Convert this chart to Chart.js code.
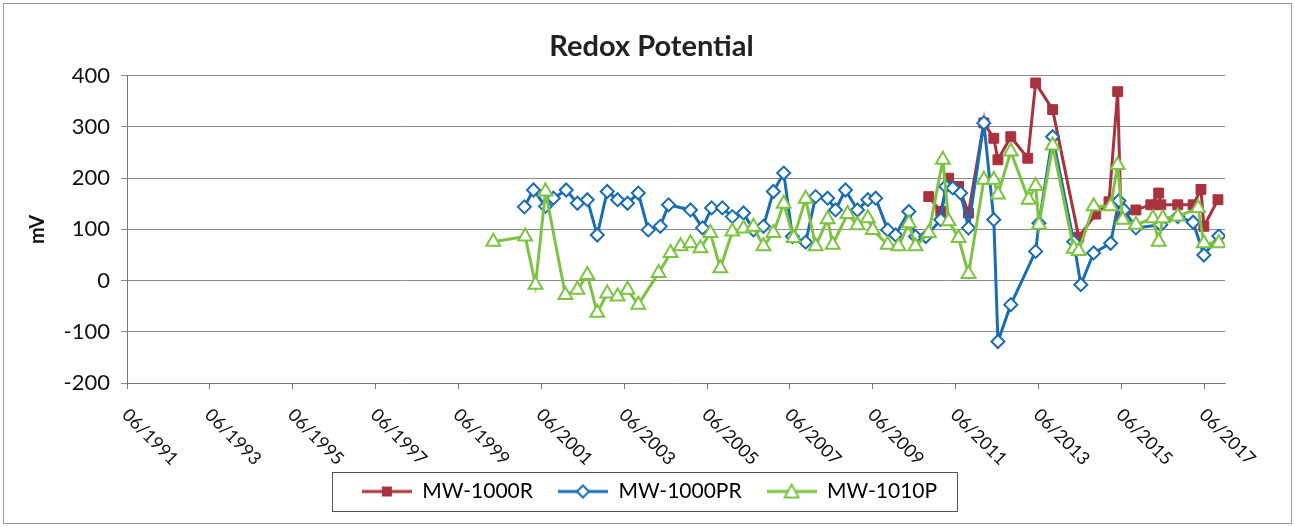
<!DOCTYPE html>
<html>
<head>
<meta charset="utf-8">
<script src="https://cdn.jsdelivr.net/npm/chart.js@4.4.0/dist/chart.umd.min.js"></script>
<style>
  html, body { margin: 0; padding: 0; background: #fff; }
</style>
</head>
<body>
<canvas id="myChart" width="1295" height="527"></canvas>
<script>
// tick labels
const xTickLabels = ['06/1991', '06/1993', '06/1995', '06/1997', '06/1999', '06/2001', '06/2003',
  '06/2005', '06/2007', '06/2009', '06/2011', '06/2013', '06/2015', '06/2017'];
const yTicks = [-200, -100, 0, 100, 200, 300, 400];

// sample dates as decimal years, values in mV
const mw1000rDates = [2010.85, 2011.14, 2011.33, 2011.57, 2011.81, 2012.18, 2012.42, 2012.52, 2012.83,
  2013.24, 2013.43, 2013.84, 2014.47, 2014.88, 2015.20, 2015.41, 2015.49, 2015.85, 2016.21, 2016.40,
  2016.45, 2016.86, 2017.23, 2017.42, 2017.49, 2017.83];
const mw1000rValues = [164, 135, 200, 184, 132, 308, 278, 236, 281,
  239, 386, 334, 85, 130, 154, 369, 122, 138, 148, 171,
  148, 148, 148, 178, 106, 158];

const mw1000prDates = [2001.09, 2001.31, 2001.60, 2001.79, 2002.10, 2002.37, 2002.61, 2002.85, 2003.09,
  2003.34, 2003.58, 2003.84, 2004.08, 2004.37, 2004.57, 2005.10, 2005.39, 2005.61, 2005.87, 2006.11,
  2006.38, 2006.62, 2006.86, 2007.10, 2007.35, 2007.56, 2007.88, 2008.12, 2008.41, 2008.60, 2008.84,
  2009.13, 2009.38, 2009.57, 2009.86, 2010.05, 2010.37, 2010.53, 2010.78, 2011.14, 2011.26, 2011.43,
  2011.62, 2011.81, 2012.18, 2012.42, 2012.52, 2012.83, 2013.43, 2013.51, 2013.84, 2014.35, 2014.52,
  2014.83, 2015.24, 2015.44, 2015.56, 2015.85, 2016.45, 2016.86, 2017.23, 2017.49, 2017.85];
const mw1000prValues = [144, 177, 145, 161, 177, 151, 158, 89, 174,
  158, 151, 171, 99, 106, 148, 138, 103, 142, 142, 125,
  132, 99, 106, 174, 210, 86, 75, 164, 161, 138, 177,
  138, 158, 161, 99, 89, 135, 86, 86, 119, 184, 181,
  171, 103, 308, 119, -119, -47, 57, 112, 281, 76, -8,
  54, 73, 156, 138, 103, 109, 125, 114, 50, 87];

const mw1010pDates = [2000.34, 2001.11, 2001.36, 2001.60, 2002.08, 2002.37, 2002.61, 2002.85, 2003.09,
  2003.34, 2003.58, 2003.84, 2004.33, 2004.62, 2004.86, 2005.10, 2005.34, 2005.58, 2005.82, 2006.11,
  2006.38, 2006.62, 2006.86, 2007.10, 2007.35, 2007.59, 2007.88, 2008.12, 2008.41, 2008.53, 2008.89,
  2009.13, 2009.38, 2009.50, 2009.86, 2010.12, 2010.37, 2010.53, 2010.85, 2011.19, 2011.33, 2011.57,
  2011.81, 2012.18, 2012.42, 2012.52, 2012.83, 2013.26, 2013.43, 2013.51, 2013.84, 2014.35, 2014.47,
  2014.83, 2015.24, 2015.41, 2015.53, 2015.85, 2016.26, 2016.40, 2016.50, 2016.86, 2017.35, 2017.49, 2017.85];
const mw1010pValues = [76, 86, -8, 174, -28, -18, 11, -63, -25,
  -31, -18, -47, 15, 54, 67, 73, 63, 93, 24, 96,
  102, 105, 67, 93, 150, 83, 160, 67, 120, 70, 130,
  108, 122, 99, 70, 67, 112, 67, 93, 236, 116, 83,
  13, 197, 197, 168, 252, 158, 185, 109, 264, 62, 58,
  145, 145, 226, 119, 109, 122, 76, 122, 125, 142, 73, 73];

const toYear = s => { const [m, y] = s.split('/').map(Number); return y + m / 12; };
const xTickValues = xTickLabels.map(toYear);
const pts = (dates, vals) => dates.map((d, i) => ({ x: d, y: vals[i] }));

const RED = '#A8323E', BLUE = '#1A6DB3', GREEN = '#7DC342';
const FONT = 'Lato, "Open Sans", sans-serif';

function legendIcon(color, style) {
  const c = document.createElement('canvas');
  c.width = 50; c.height = 18;
  const ctx = c.getContext('2d');
  ctx.strokeStyle = color; ctx.lineWidth = 3;
  ctx.beginPath(); ctx.moveTo(0, 9); ctx.lineTo(50, 9); ctx.stroke();
  ctx.fillStyle = style === 'rect' ? color : '#fff';
  ctx.lineWidth = 2;
  ctx.beginPath();
  if (style === 'rect') { ctx.rect(20, 4, 10, 10); ctx.fill(); }
  else if (style === 'rectRot') { ctx.moveTo(19, 9); ctx.lineTo(25, 3); ctx.lineTo(31, 9); ctx.lineTo(25, 15); ctx.closePath(); ctx.fill(); ctx.stroke(); }
  else { ctx.moveTo(25, 2); ctx.lineTo(32, 15); ctx.lineTo(18, 15); ctx.closePath(); ctx.fill(); ctx.stroke(); }
  return c;
}

const chromePlugin = {
  id: 'chrome',
  beforeDraw(chart) {
    const ctx = chart.ctx;
    ctx.save();
    ctx.fillStyle = '#fff';
    ctx.fillRect(0, 0, chart.width, chart.height);
    ctx.restore();
  },
  afterLayout(chart) {
    // Excel centres title and legend on the whole chart, not on the plot
    chart.legend.left += 24;
    chart.legend.right += 24;
    chart.titleBlock.left += 26;
    chart.titleBlock.right += 26;
  },
  afterDraw(chart) {
    const ctx = chart.ctx;
    const xs = chart.scales.x;
    ctx.save();
    // rotated date labels, reading downwards to the right
    ctx.fillStyle = '#111';
    ctx.font = '18px ' + FONT;
    ctx.textAlign = 'left';
    ctx.textBaseline = 'middle';
    xTickValues.forEach((v, i) => {
      const px = xs.getPixelForValue(v);
      ctx.save();
      ctx.translate(px - 2, xs.top + 29);
      ctx.rotate(Math.PI / 4);
      ctx.fillText(xTickLabels[i], 0, 0);
      ctx.restore();
    });
    // legend frame
    const boxes = chart.legend.legendHitBoxes;
    if (boxes && boxes.length) {
      const l = Math.min(...boxes.map(b => b.left)) - 30;
      const r = Math.max(...boxes.map(b => b.left + b.width)) + 20;
      const t = boxes[0].top - 9;
      const b = boxes[0].top + boxes[0].height + 9;
      ctx.strokeStyle = '#555';
      ctx.lineWidth = 1;
      ctx.strokeRect(Math.round(l) + 0.5, Math.round(t) + 0.5, Math.round(r - l), Math.round(b - t));
    }
    // outer chart border
    ctx.strokeStyle = '#999';
    ctx.strokeRect(3.5, 3.5, chart.width - 7, chart.height - 7);
    ctx.restore();
  }
};

const datasets = [
  { label: 'MW-1000R', data: pts(mw1000rDates, mw1000rValues), borderColor: RED, backgroundColor: RED,
    pointStyle: 'rect', pointRadius: 7, pointBorderWidth: 1, order: 3, icon: legendIcon(RED, 'rect') },
  { label: 'MW-1000PR', data: pts(mw1000prDates, mw1000prValues), borderColor: BLUE, backgroundColor: '#fff',
    pointStyle: 'rectRot', pointRadius: 6.5, pointBorderWidth: 2, order: 2, icon: legendIcon(BLUE, 'rectRot') },
  { label: 'MW-1010P', data: pts(mw1010pDates, mw1010pValues), borderColor: GREEN, backgroundColor: '#fff',
    pointStyle: 'triangle', pointRadius: 8, pointBorderWidth: 2, order: 1, icon: legendIcon(GREEN, 'triangle') }
];

Chart.defaults.font.family = FONT;

new Chart(document.getElementById('myChart'), {
  type: 'line',
  data: { datasets: datasets.map(d => ({ ...d, borderWidth: 3, tension: 0, fill: false })) },
  options: {
    responsive: false,
    animation: false,
    devicePixelRatio: 1,
    layout: { padding: { left: 26, right: 70, top: 0, bottom: 15 } },
    scales: {
      x: {
        type: 'linear',
        min: 1991.5,
        max: 2018.0,
        afterBuildTicks: s => { s.ticks = xTickValues.map(v => ({ value: v })); },
        ticks: { display: false },
        grid: { drawOnChartArea: false, drawTicks: true, tickLength: 6, color: '#777' },
        border: { color: '#777' },
        afterFit: s => { s.height = 73; }
      },
      y: {
        min: -200,
        max: 400,
        afterBuildTicks: s => { s.ticks = yTicks.map(v => ({ value: v })); },
        ticks: { color: '#111', font: { size: 22 }, padding: 11 },
        grid: { color: '#8c8c8c', tickLength: 6 },
        border: { color: '#777' },
        title: { display: true, text: 'mV', color: '#111', font: { size: 20, weight: 'bold' }, padding: 0 },
        afterFit: s => { s.width = 101; }
      }
    },
    plugins: {
      title: {
        display: true,
        text: 'Redox Potential',
        color: '#222',
        font: { size: 29, weight: 'bold' },
        padding: { top: 29, bottom: 12 }
      },
      legend: {
        position: 'bottom',
        labels: {
          usePointStyle: true,
          pointStyleWidth: 50,
          color: '#111',
          font: { size: 21 },
          padding: 25,
          generateLabels: chart => chart.data.datasets.map((d, i) => ({
            text: d.label,
            pointStyle: d.icon,
            fillStyle: d.borderColor,
            strokeStyle: d.borderColor,
            lineWidth: 0,
            hidden: false,
            datasetIndex: i
          }))
        }
      },
      tooltip: { enabled: false }
    }
  },
  plugins: [chromePlugin]
});
</script>
</body>
</html>
